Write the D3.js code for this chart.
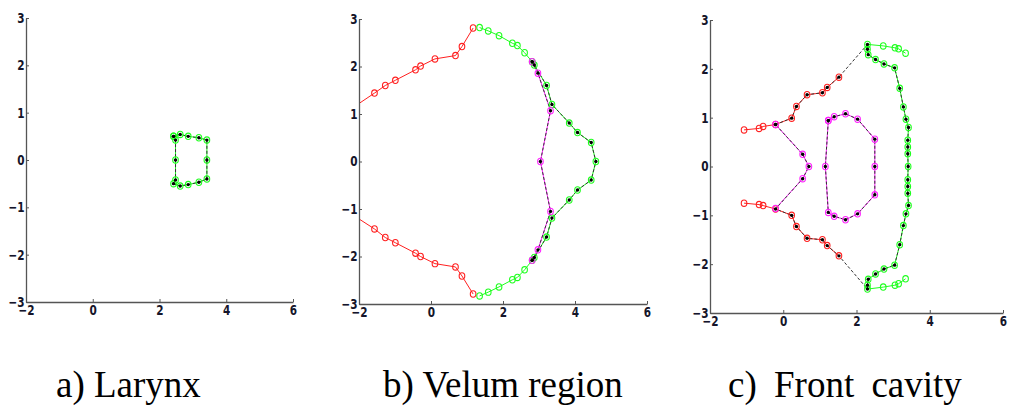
<!DOCTYPE html>
<html>
<head>
<meta charset="utf-8">
<script src="https://cdn.jsdelivr.net/npm/d3@7"></script>
<style>
  body { margin: 0; background: #fff; position: relative; width: 1010px; height: 407px; overflow: hidden; }
  svg { position: absolute; left: 0; top: 0; }
  .caption { position: absolute; top: 366px; font-family: "Liberation Serif", "Times New Roman", serif; font-size: 37px; line-height: 37px; color: #000; white-space: nowrap; }
</style>
</head>
<body>
<script>
var width = 1010, height = 407;

var xTicks = [-2, 0, 2, 4, 6];
var yTicks = [-3, -2, -1, 0, 1, 2, 3];
var captions = ["a) Larynx", "b) Velum region", "c) Front cavity"];

// a) larynx: one closed contour, green circles with tracked black dots
var aGreenX = [2.42, 2.62, 2.86, 3.18, 3.42, 3.42, 3.42, 3.18, 2.86, 2.62, 2.42, 2.48, 2.48, 2.48, 2.42];
var aGreenY = [0.50, 0.54, 0.50, 0.47, 0.42, 0.00, -0.40, -0.47, -0.52, -0.55, -0.50, -0.42, 0.00, 0.42, 0.50];

// b) velum region
var bRedUpX = [-2.10, -1.57, -1.27, -0.99, -0.43, -0.29, 0.11, 0.68, 0.86, 1.17];
var bRedUpY = [1.17, 1.44, 1.60, 1.71, 1.93, 2.01, 2.16, 2.23, 2.42, 2.81];
var bRedLoX = [-2.10, -1.57, -1.27, -0.99, -0.43, -0.29, 0.11, 0.68, 0.86, 1.17];
var bRedLoY = [-1.16, -1.42, -1.60, -1.71, -1.93, -2.00, -2.15, -2.22, -2.41, -2.79];
var bGreenX = [1.35, 1.59, 1.89, 2.26, 2.40, 2.60, 2.81, 2.87, 3.21, 3.36, 3.84, 4.07, 4.45, 4.58,
               4.45, 4.07, 3.84, 3.36, 3.21, 2.87, 2.81, 2.60, 2.40, 2.26, 1.89, 1.59, 1.35];
var bGreenY = [2.82, 2.75, 2.65, 2.49, 2.44, 2.29, 2.10, 2.03, 1.60, 1.20, 0.81, 0.61, 0.40, 0.00,
               -0.39, -0.60, -0.81, -1.19, -1.59, -2.02, -2.08, -2.28, -2.44, -2.49, -2.64, -2.75, -2.83];
var bTrackX = [2.81, 2.87, 3.21, 3.36, 3.84, 4.07, 4.45, 4.58, 4.45, 4.07, 3.84, 3.36, 3.21, 2.87, 2.81];
var bTrackY = [2.10, 2.03, 1.60, 1.20, 0.81, 0.61, 0.40, 0.00, -0.39, -0.60, -0.81, -1.19, -1.59, -2.02, -2.08];
var bMagX = [2.81, 2.97, 3.32, 3.04, 3.32, 2.97, 2.81];
var bMagY = [2.10, 1.86, 1.07, 0.00, -1.05, -1.86, -2.08];

// c) front cavity
var cRedUpX = [-1.07, -0.66, -0.55, -0.21, 0.23, 0.36, 0.65, 1.07, 1.20, 1.52];
var cRedUpY = [0.75, 0.78, 0.82, 0.86, 0.99, 1.23, 1.47, 1.51, 1.62, 1.83];
var cRedLoX = [-1.07, -0.66, -0.55, -0.21, 0.23, 0.36, 0.65, 1.07, 1.20, 1.52];
var cRedLoY = [-0.75, -0.78, -0.80, -0.87, -1.00, -1.23, -1.47, -1.50, -1.62, -1.83];
var cMagVX = [-0.21, 0.53, 0.70, 0.53, -0.21];
var cMagVY = [0.86, 0.25, 0.00, -0.25, -0.86];
var cMagLoopX = [1.23, 1.39, 1.70, 2.03, 2.50, 2.50, 2.50, 2.03, 1.70, 1.39, 1.23, 1.15, 1.23];
var cMagLoopY = [0.94, 1.02, 1.08, 0.97, 0.56, 0.00, -0.58, -0.97, -1.09, -1.02, -0.94, 0.00, 0.94];
var cGreenX = [3.34, 3.15, 3.05, 2.73, 2.30, 2.30, 2.32, 2.52, 2.75, 3.04, 3.18, 3.28, 3.35, 3.42, 3.40, 3.40, 3.40, 3.41,
               3.40, 3.40, 3.40, 3.42, 3.35, 3.28, 3.18, 3.04, 2.75, 2.52, 2.32, 2.30, 2.30, 2.73, 3.05, 3.15, 3.34];
var cGreenY = [2.32, 2.41, 2.43, 2.47, 2.50, 2.40, 2.29, 2.19, 2.10, 2.02, 1.60, 1.22, 0.97, 0.80, 0.54, 0.40, 0.26, 0.00,
               -0.27, -0.41, -0.55, -0.80, -0.97, -1.21, -1.60, -2.02, -2.10, -2.20, -2.31, -2.43, -2.51, -2.47, -2.43, -2.40, -2.30];
var cTrackX = [-0.21, 0.23, 0.36, 0.65, 1.07, 1.20, 1.52, 2.30, 2.30, 2.32, 2.52, 2.75, 3.04, 3.18, 3.28, 3.35, 3.42, 3.40, 3.40, 3.40, 3.41,
               3.40, 3.40, 3.40, 3.42, 3.35, 3.28, 3.18, 3.04, 2.75, 2.52, 2.32, 2.30, 2.30, 1.52, 1.20, 1.07, 0.65, 0.36, 0.23, -0.21,
               0.53, 0.70, 0.53, -0.21];
var cTrackY = [0.86, 0.99, 1.23, 1.47, 1.51, 1.62, 1.83, 2.50, 2.40, 2.29, 2.19, 2.10, 2.02, 1.60, 1.22, 0.97, 0.80, 0.54, 0.40, 0.26, 0.00,
               -0.27, -0.41, -0.55, -0.80, -0.97, -1.21, -1.60, -2.02, -2.10, -2.20, -2.31, -2.43, -2.51, -1.83, -1.62, -1.50, -1.47, -1.23, -1.00, -0.87,
               -0.25, 0.00, 0.25, 0.86];

var RED = "#ff2020", GREEN = "#1eff1e", MAG = "#ff22ff";

function zipXY(xs, ys) { return xs.map(function(v, i) { return [v, ys[i]]; }); }

// colored series: solid line + open circles; tracked: dashed black + dots
var panels = [
  { box: [26, 293, 18, 302], caption: 56, wordGap: 0,
    colored: [{ x: aGreenX, y: aGreenY, c: GREEN }],
    tracked: [{ x: aGreenX, y: aGreenY }] },
  { box: [359, 647, 19, 304], caption: 383, wordGap: 0,
    colored: [{ x: bRedUpX, y: bRedUpY, c: RED }, { x: bRedLoX, y: bRedLoY, c: RED },
              { x: bGreenX, y: bGreenY, c: GREEN }, { x: bMagX, y: bMagY, c: MAG }],
    tracked: [{ x: bTrackX, y: bTrackY }, { x: bMagX, y: bMagY }] },
  { box: [710, 1003, 20, 313], caption: 728, wordGap: 8,
    colored: [{ x: cRedUpX, y: cRedUpY, c: RED }, { x: cRedLoX, y: cRedLoY, c: RED },
              { x: cMagVX, y: cMagVY, c: MAG }, { x: cMagLoopX, y: cMagLoopY, c: MAG },
              { x: cGreenX, y: cGreenY, c: GREEN }],
    tracked: [{ x: cTrackX, y: cTrackY }, { x: cMagLoopX, y: cMagLoopY }] }
];

var svg = d3.select("body").append("svg")
    .attr("width", width)
    .attr("height", height);

var fmt = d3.format("d");

panels.forEach(function(p, k) {
  var x = d3.scaleLinear().domain([-2, 6]).range([p.box[0], p.box[1]]);
  var y = d3.scaleLinear().domain([-3, 3]).range([p.box[3], p.box[2]]);
  var line = d3.line().x(function(d) { return x(d[0]); }).y(function(d) { return y(d[1]); });

  svg.append("clipPath").attr("id", "clip" + k)
    .append("rect")
      .attr("x", p.box[0]).attr("y", p.box[2])
      .attr("width", p.box[1] - p.box[0]).attr("height", p.box[3] - p.box[2]);

  var g = svg.append("g").attr("clip-path", "url(#clip" + k + ")");

  p.colored.forEach(function(s) {
    g.append("path").datum(zipXY(s.x, s.y))
        .attr("d", line)
        .attr("fill", "none")
        .attr("stroke", s.c)
        .attr("stroke-width", 1);
  });
  p.tracked.forEach(function(s) {
    g.append("path").datum(zipXY(s.x, s.y))
        .attr("d", line)
        .attr("fill", "none")
        .attr("stroke", "#333")
        .attr("stroke-width", 1)
        .attr("stroke-dasharray", "3,2");
  });
  p.colored.forEach(function(s) {
    g.selectAll(null).data(zipXY(s.x, s.y)).enter().append("ellipse")
        .attr("cx", function(d) { return x(d[0]); })
        .attr("cy", function(d) { return y(d[1]); })
        .attr("rx", 2.8).attr("ry", 3.2)
        .attr("fill", "none")
        .attr("stroke", s.c)
        .attr("stroke-width", 1.1);
  });
  p.tracked.forEach(function(s) {
    g.selectAll(null).data(zipXY(s.x, s.y)).enter().append("circle")
        .attr("cx", function(d) { return x(d[0]); })
        .attr("cy", function(d) { return y(d[1]); })
        .attr("r", 1.7)
        .attr("fill", "#000");
  });

  var ax = svg.append("g")
      .attr("transform", "translate(0," + p.box[3] + ")")
      .call(d3.axisBottom(x).tickValues(xTicks).tickFormat(fmt).tickSize(-3).tickSizeOuter(0).tickPadding(3));
  var ay = svg.append("g")
      .attr("transform", "translate(" + p.box[0] + ",0)")
      .call(d3.axisLeft(y).tickValues(yTicks).tickFormat(fmt).tickSize(-3).tickSizeOuter(0).tickPadding(2));
  [ax, ay].forEach(function(a) {
    a.attr("font-family", "DejaVu Sans").attr("font-size", 14).attr("font-weight", "bold");
    a.select(".domain").attr("stroke", "#555").attr("stroke-width", 1.3);
    a.selectAll(".tick line").attr("stroke", "#555");
    a.selectAll(".tick text")
        .attr("fill", "#15152a")
        .attr("transform", "scale(0.75,1)");
  });

  // caption as HTML text under the panel
  d3.select("body").append("div")
      .attr("class", "caption")
      .style("left", p.caption + "px")
      .style("word-spacing", p.wordGap + "px")
      .text(captions[k]);
});
</script>
</body>
</html>
